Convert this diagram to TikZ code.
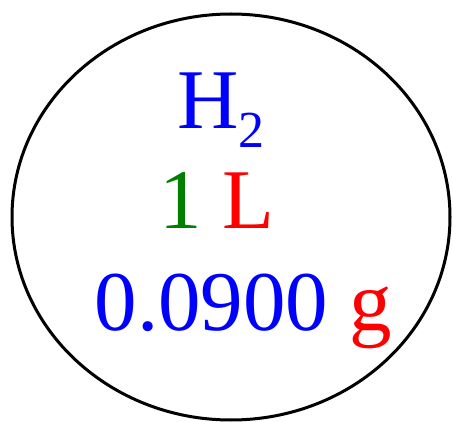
\documentclass[tikz,border=0pt]{standalone}
\usepackage{fontspec}
\setmainfont{Liberation Serif}
\definecolor{gasBlue}{RGB}{0,0,255}
\definecolor{volGreen}{RGB}{0,128,0}
\definecolor{unitRed}{RGB}{255,0,0}

\begin{document}
\begin{tikzpicture}[
    x=1pt,y=-1pt,
    line cap=round,
    line join=round,
    vessel/.style={line width=3pt,draw=black},
    lab/.style={inner sep=0pt,anchor=base,font=\fontsize{85}{100}\selectfont}
]
\useasboundingbox (0,0) rectangle (453,422);

% ============================================================
% sample vessel
% ============================================================

\draw[vessel] (231,217) ellipse[x radius=219,y radius=203];

% ============================================================
% contents
% ============================================================

\node[lab,text=gasBlue] (gas) at (221,129)
    {H\raisebox{-19pt}{\fontsize{52}{52}\selectfont 2}};

\node[lab] (vol) at (217,229)
    {\textcolor{volGreen}{1} \textcolor{unitRed}{L}};

\node[lab] (mass) at (243.5,331)
    {\textcolor{gasBlue}{0.0900} \textcolor{unitRed}{g}};

\end{tikzpicture}
\end{document}
